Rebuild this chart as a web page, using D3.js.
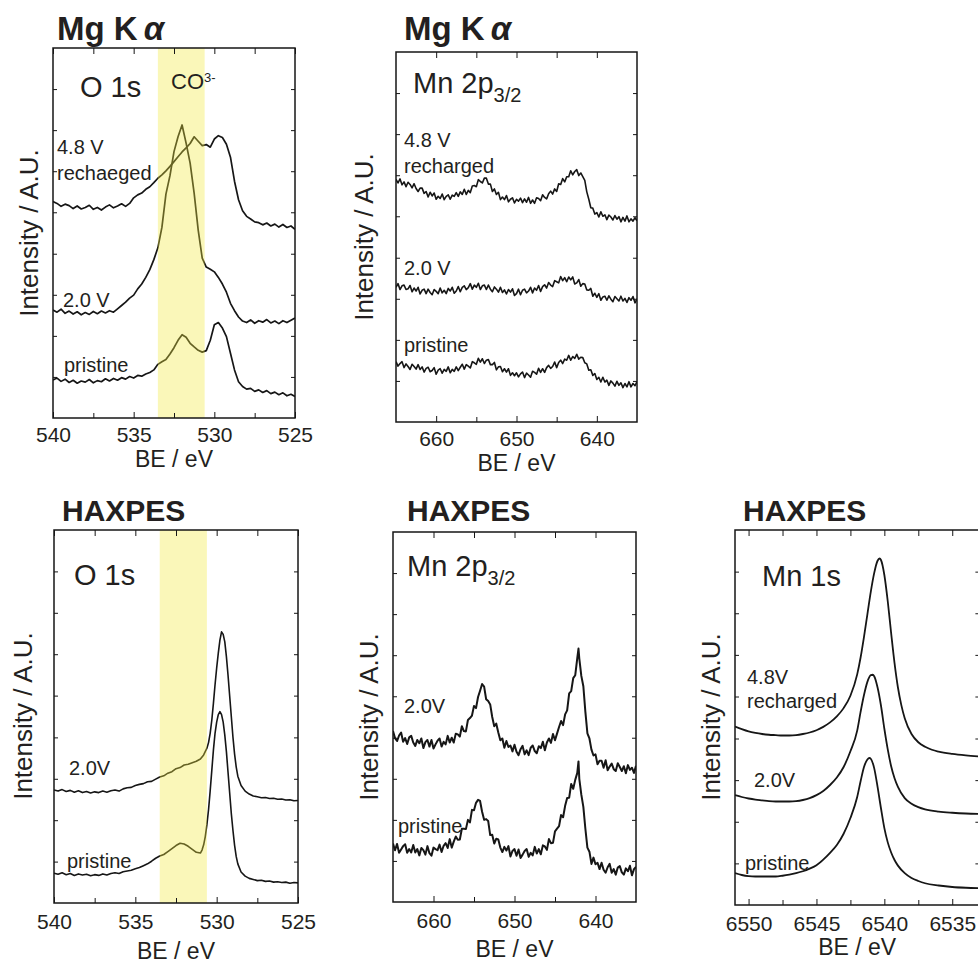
<!DOCTYPE html>
<html>
<head>
<meta charset="utf-8">
<script src="https://cdn.jsdelivr.net/npm/d3@7"></script>
<style>
  body { margin: 0; background: #fff; }
  svg text { font-family: "Liberation Sans", Arial, Helvetica, sans-serif; fill: #231f20; }
</style>
</head>
<body>
<svg id="fig" width="978" height="965"></svg>
<script>
// ===================== DATA (binding energy in eV, intensity in A.U. 0-100) =====================

// --- Mg Ka, O 1s ---
const o1sMgRecharged = [[540,58.5],[539.75,58.0],[539.5,57.2],[539.25,57.8],[539,57.4],[538.75,56.6],[538.5,57.3],[538.25,56.5],[538,56.9],[537.75,57.5],[537.5,56.4],[537.25,56.9],[537,56.2],[536.75,57.0],[536.5,57.6],[536.25,56.8],[536,57.3],[535.75,57.9],[535.5,57.2],[535.25,58.0],[535,59.5],[534.75,60.3],[534.5,60.8],[534.25,61.8],[534,62.5],[533.75,63.6],[533.5,64.8],[533.25,65.7],[533,66.8],[532.75,68.0],[532.5,69.3],[532.25,70.6],[532,71.9],[531.75,73.0],[531.5,74.2],[531.25,76.0],[531,74.8],[530.75,73.6],[530.5,73.9],[530.25,73.2],[530,75.4],[529.75,76.3],[529.5,75.8],[529.25,74.0],[529,70.5],[528.75,64.0],[528.5,59.0],[528.25,56.0],[528,54.5],[527.75,53.8],[527.5,53.0],[527.25,52.8],[527,52.2],[526.75,52.7],[526.5,51.9],[526.25,52.4],[526,51.6],[525.75,52.3],[525.5,51.5],[525.25,51.9],[525,51.0]];
const o1sMg20V = [[540,29.2],[539.75,28.6],[539.5,29.4],[539.25,28.3],[539,28.9],[538.75,28.1],[538.5,28.7],[538.25,27.9],[538,28.5],[537.75,28.0],[537.5,28.8],[537.25,28.2],[537,28.9],[536.75,28.4],[536.5,29.0],[536.25,28.6],[536,29.5],[535.75,30.4],[535.5,31.3],[535.25,32.4],[535,33.2],[534.75,34.9],[534.5,36.2],[534.25,38.0],[534,40.1],[533.75,42.8],[533.5,46.0],[533.25,51.5],[533,60.5],[532.75,65.5],[532.5,72.0],[532.25,76.0],[532,79.2],[531.75,74.3],[531.5,68.9],[531.25,60.7],[531,50.8],[530.75,43.2],[530.5,40.8],[530.25,40.2],[530,39.5],[529.75,38.0],[529.5,36.2],[529.25,34.0],[529,31.0],[528.75,29.0],[528.5,27.3],[528.25,26.2],[528,25.8],[527.75,26.5],[527.5,25.6],[527.25,26.3],[527,25.9],[526.75,26.6],[526.5,25.7],[526.25,26.2],[526,25.5],[525.75,26.3],[525.5,25.8],[525.25,26.4],[525,27.0]];
const o1sMgPristine = [[540,10.3],[539.75,10.8],[539.5,9.9],[539.25,10.5],[539,9.6],[538.75,10.2],[538.5,9.4],[538.25,10.0],[538,9.7],[537.75,10.4],[537.5,9.5],[537.25,10.1],[537,9.8],[536.75,10.6],[536.5,10.0],[536.25,10.7],[536,10.2],[535.75,10.9],[535.5,10.5],[535.25,11.2],[535,10.8],[534.75,11.5],[534.5,11.3],[534.25,11.9],[534,12.3],[533.75,13.0],[533.5,14.5],[533.25,15.2],[533,15.8],[532.75,17.3],[532.5,19.0],[532.25,21.0],[532,22.5],[531.75,21.8],[531.5,20.2],[531.25,19.2],[531,18.3],[530.75,17.8],[530.5,18.2],[530.25,21.0],[530,25.2],[529.75,25.8],[529.5,24.3],[529.25,22.0],[529,17.5],[528.75,13.0],[528.5,9.8],[528.25,8.5],[528,7.8],[527.75,8.0],[527.5,7.2],[527.25,7.6],[527,6.9],[526.75,7.4],[526.5,6.6],[526.25,7.0],[526,6.3],[525.75,6.8],[525.5,6.0],[525.25,6.4],[525,5.8]];

// --- Mg Ka, Mn 2p3/2 ---
const mn2pMgRecharged = [[665,65.6],[664.75,64.6],[664.5,65.7],[664.25,64.1],[664,64.9],[663.75,63.6],[663.5,64.8],[663.25,64.2],[663,63.3],[662.75,64.4],[662.5,63.1],[662.25,62.3],[662,63.2],[661.75,63.2],[661.5,61.8],[661.25,62.3],[661,60.8],[660.75,62.1],[660.5,61.1],[660.25,61.9],[660,60.2],[659.75,61.0],[659.5,60.4],[659.25,61.6],[659,60.1],[658.75,61.0],[658.5,61.4],[658.25,60.2],[658,61.3],[657.75,61.0],[657.5,62.0],[657.25,61.0],[657,62.2],[656.75,61.5],[656.5,62.9],[656.25,61.5],[656,62.6],[655.75,62.0],[655.5,63.8],[655.25,63.9],[655,63.6],[654.75,65.5],[654.5,65.0],[654.25,64.6],[654,65.9],[653.75,65.9],[653.5,64.3],[653.25,64.3],[653,62.3],[652.75,63.0],[652.5,61.5],[652.25,62.1],[652,60.1],[651.75,60.8],[651.5,60.1],[651.25,61.2],[651,59.5],[650.75,60.2],[650.5,60.6],[650.25,59.2],[650,60.2],[649.75,59.7],[649.5,60.5],[649.25,59.3],[649,60.3],[648.75,59.4],[648.5,60.7],[648.25,59.1],[648,60.0],[647.75,59.1],[647.5,60.6],[647.25,60.4],[647,59.8],[646.75,61.4],[646.5,60.7],[646.25,60.3],[646,61.7],[645.75,62.4],[645.5,61.6],[645.25,63.0],[645,62.3],[644.75,64.4],[644.5,64.2],[644.25,65.8],[644,64.9],[643.75,66.3],[643.5,66.3],[643.25,67.9],[643,66.8],[642.75,67.7],[642.5,68.2],[642.25,66.6],[642,67.3],[641.75,66.3],[641.5,65.3],[641.25,62.2],[641,60.2],[640.75,57.9],[640.5,57.8],[640.25,56.2],[640,56.6],[639.75,55.4],[639.5,56.8],[639.25,55.6],[639,56.0],[638.75,54.7],[638.5,55.9],[638.25,55.4],[638,54.6],[637.75,55.8],[637.5,54.8],[637.25,55.5],[637,54.1],[636.75,55.3],[636.5,54.3],[636.25,55.7],[636,54.1],[635.75,54.9],[635.5,54.3],[635.25,55.2],[635,54.4]];
const mn2pMg20V = [[665,36.4],[664.75,37.4],[664.5,35.8],[664.25,36.8],[664,37.0],[663.75,35.8],[663.5,36.0],[663.25,36.9],[663,35.2],[662.75,36.2],[662.5,35.4],[662.25,36.4],[662,34.6],[661.75,35.6],[661.5,35.9],[661.25,34.7],[661,35.9],[660.75,35.0],[660.5,34.4],[660.25,35.8],[660,35.3],[659.75,34.7],[659.5,36.2],[659.25,34.9],[659,35.6],[658.75,34.7],[658.5,36.1],[658.25,35.4],[658,36.4],[657.75,34.8],[657.5,35.4],[657.25,36.6],[657,35.2],[656.75,36.4],[656.5,36.8],[656.25,35.8],[656,36.3],[655.75,37.4],[655.5,35.9],[655.25,37.0],[655,36.4],[654.75,37.5],[654.5,35.8],[654.25,36.8],[654,37.0],[653.75,35.8],[653.5,37.0],[653.25,35.9],[653,35.2],[652.75,36.5],[652.5,35.9],[652.25,35.1],[652,36.4],[651.75,35.0],[651.5,35.7],[651.25,34.6],[651,35.8],[650.75,35.1],[650.5,36.0],[650.25,34.2],[650,34.7],[649.75,35.9],[649.5,34.4],[649.25,35.6],[649,35.9],[648.75,34.9],[648.5,35.4],[648.25,36.4],[648,34.9],[647.75,36.2],[647.5,35.6],[647.25,36.9],[647,35.3],[646.75,36.6],[646.5,37.1],[646.25,36.2],[646,37.7],[645.75,37.0],[645.5,36.6],[645.25,38.2],[645,37.9],[644.75,37.6],[644.5,39.3],[644.25,38.2],[644,39.0],[643.75,37.9],[643.5,39.2],[643.25,38.4],[643,39.2],[642.75,37.3],[642.5,37.6],[642.25,38.5],[642,36.7],[641.75,37.4],[641.5,37.3],[641.25,35.7],[641,35.6],[640.75,36.1],[640.5,34.0],[640.25,34.8],[640,33.7],[639.75,34.7],[639.5,32.9],[639.25,33.8],[639,34.0],[638.75,32.9],[638.5,34.1],[638.25,33.2],[638,32.5],[637.75,33.9],[637.5,33.3],[637.25,32.7],[637,34.0],[636.75,32.7],[636.5,33.4],[636.25,32.3],[636,33.6],[635.75,32.9],[635.5,33.9],[635.25,32.2],[635,33.3]];
const mn2pMgPristine = [[665,16.3],[664.75,15.1],[664.5,15.8],[664.25,16.3],[664,14.7],[663.75,15.7],[663.5,15.0],[663.25,14.2],[663,15.6],[662.75,15.0],[662.5,14.3],[662.25,15.5],[662,14.2],[661.75,14.9],[661.5,13.5],[661.25,14.5],[661,14.8],[660.75,13.6],[660.5,13.9],[660.25,14.7],[660,12.9],[659.75,14.0],[659.5,14.4],[659.25,13.2],[659,14.2],[658.75,13.7],[658.5,14.9],[658.25,13.3],[658,14.2],[657.75,13.7],[657.5,14.9],[657.25,13.9],[657,14.8],[656.75,15.6],[656.5,14.3],[656.25,15.5],[656,15.1],[655.75,14.6],[655.5,16.3],[655.25,16.0],[655,15.6],[654.75,17.2],[654.5,16.2],[654.25,17.1],[654,15.8],[653.75,16.7],[653.5,16.9],[653.25,15.5],[653,15.5],[652.75,16.1],[652.5,14.1],[652.25,14.9],[652,15.0],[651.75,13.6],[651.5,14.4],[651.25,13.5],[651,14.4],[650.75,12.6],[650.5,13.3],[650.25,12.5],[650,13.3],[649.75,12.2],[649.5,13.0],[649.25,13.5],[649,12.0],[648.75,13.2],[648.5,12.7],[648.25,12.1],[648,13.7],[647.75,13.4],[647.5,12.9],[647.25,14.5],[647,13.4],[646.75,14.4],[646.5,13.4],[646.25,14.7],[646,15.3],[645.75,14.5],[645.5,15.0],[645.25,16.2],[645,14.7],[644.75,16.1],[644.5,16.7],[644.25,15.8],[644,17.0],[643.75,16.7],[643.5,18.0],[643.25,16.7],[643,17.7],[642.75,17.2],[642.5,18.3],[642.25,17.0],[642,17.5],[641.75,17.4],[641.5,16.0],[641.25,15.7],[641,14.0],[640.75,14.1],[640.5,12.6],[640.25,13.1],[640,11.5],[639.75,12.1],[639.5,10.8],[639.25,12.1],[639,10.8],[638.75,11.3],[638.5,9.9],[638.25,11.1],[638,10.5],[637.75,9.7],[637.5,11.0],[637.25,9.9],[637,10.6],[636.75,9.3],[636.5,10.4],[636.25,9.5],[636,10.9],[635.75,9.5],[635.5,10.4],[635.25,9.8],[635,10.9]];

// --- HAXPES, O 1s ---
const o1sHx20V = [[540,30.3],[539.75,30.0],[539.5,30.4],[539.25,29.9],[539,30.2],[538.75,29.7],[538.5,30.1],[538.25,29.6],[538,29.9],[537.75,29.5],[537.5,29.8],[537.25,29.6],[537,30.0],[536.75,29.7],[536.5,30.1],[536.25,30.3],[536,30.0],[535.75,30.6],[535.5,30.9],[535.25,31.0],[535,31.5],[534.75,31.8],[534.5,32.0],[534.25,32.5],[534,32.6],[533.75,33.2],[533.5,33.8],[533.25,34.1],[533,34.8],[532.75,35.2],[532.5,36.0],[532.25,36.3],[532,37.0],[531.75,37.2],[531.5,37.6],[531.25,38.0],[531,38.6],[530.8,39.7],[530.6,41.5],[530.5,43.0],[530.4,45.5],[530.3,49.0],[530.2,53.5],[530.1,58.5],[530,63.0],[529.9,67.0],[529.8,70.5],[529.7,72.7],[529.6,72.0],[529.5,70.0],[529.4,66.0],[529.3,61.0],[529.2,55.5],[529.1,50.0],[529,44.5],[528.9,40.0],[528.8,36.5],[528.7,34.0],[528.5,31.5],[528.25,30.0],[528,29.2],[527.75,28.7],[527.5,28.5],[527.25,28.2],[527,28.3],[526.75,28.0],[526.5,28.1],[526.25,27.8],[526,27.9],[525.75,27.6],[525.5,27.7],[525.25,27.4],[525,27.5]];
const o1sHxPristine = [[540,8.0],[539.75,7.7],[539.5,8.1],[539.25,7.6],[539,7.9],[538.75,7.4],[538.5,7.8],[538.25,7.5],[538,7.7],[537.75,7.3],[537.5,7.6],[537.25,7.4],[537,7.8],[536.75,7.5],[536.5,7.9],[536.25,8.1],[536,7.9],[535.75,8.4],[535.5,8.6],[535.25,8.8],[535,9.2],[534.75,9.5],[534.5,10.0],[534.25,10.5],[534,11.2],[533.75,12.0],[533.5,12.6],[533.25,13.0],[533,13.8],[532.75,14.6],[532.5,15.4],[532.25,16.0],[532,15.8],[531.75,15.2],[531.5,14.4],[531.25,13.6],[531,13.4],[530.9,14.2],[530.8,15.6],[530.7,17.8],[530.6,21.0],[530.5,25.0],[530.4,30.0],[530.3,35.5],[530.2,41.0],[530.1,45.5],[530,48.5],[529.9,50.5],[529.8,51.3],[529.7,50.5],[529.6,48.5],[529.5,45.0],[529.4,40.5],[529.3,35.0],[529.2,29.5],[529.1,24.0],[529,19.5],[528.9,15.5],[528.8,12.5],[528.7,10.5],[528.5,8.3],[528.25,7.2],[528,6.6],[527.75,6.3],[527.5,6.0],[527.25,6.1],[527,5.8],[526.75,5.9],[526.5,5.6],[526.25,5.7],[526,5.5],[525.75,5.6],[525.5,5.3],[525.25,5.5],[525,5.4]];

// --- HAXPES, Mn 2p3/2 ---
const mn2pHx20V = [[665,46.2],[664.75,44.3],[664.5,43.5],[664.25,45.0],[664,45.8],[663.75,43.3],[663.5,44.3],[663.25,42.7],[663,44.5],[662.75,44.9],[662.5,43.1],[662.25,42.2],[662,43.8],[661.75,42.9],[661.5,44.2],[661.25,41.6],[661,43.2],[660.75,43.8],[660.5,42.0],[660.25,43.8],[660,41.5],[659.75,42.6],[659.5,43.6],[659.25,44.2],[659,42.0],[658.75,43.3],[658.5,42.6],[658.25,44.9],[658,43.1],[657.75,44.4],[657.5,43.1],[657.25,45.5],[657,45.3],[656.75,44.7],[656.5,47.5],[656.25,46.2],[656,46.1],[655.75,49.2],[655.5,49.7],[655.25,50.4],[655,53.0],[654.75,52.4],[654.5,55.4],[654.25,57.1],[654,58.9],[653.75,58.2],[653.5,54.8],[653.25,54.3],[653,53.4],[652.75,50.0],[652.5,47.5],[652.25,48.2],[652,45.8],[651.75,43.7],[651.5,44.2],[651.25,41.7],[651,43.5],[650.75,41.9],[650.5,42.3],[650.25,40.7],[650,42.5],[649.75,40.6],[649.5,39.7],[649.25,41.3],[649,42.2],[648.75,39.9],[648.5,41.0],[648.25,39.7],[648,41.7],[647.75,42.3],[647.5,40.8],[647.25,40.2],[647,42.1],[646.75,41.6],[646.5,43.3],[646.25,41.0],[646,43.1],[645.75,44.2],[645.5,43.0],[645.25,45.4],[645,43.7],[644.75,45.5],[644.5,47.3],[644.25,48.9],[644,47.8],[643.75,50.7],[643.5,51.8],[643.25,56.4],[643,57.0],[642.75,60.5],[642.5,61.3],[642.25,65.9],[642.1,68.5],[642,65.8],[641.75,61.1],[641.5,58.3],[641.25,51.4],[641,45.6],[640.75,44.2],[640.5,41.2],[640.25,39.6],[640,39.9],[639.75,37.2],[639.5,38.2],[639.25,38.2],[639,36.3],[638.75,38.3],[638.5,35.6],[638.25,36.6],[638,37.4],[637.75,35.9],[637.5,35.4],[637.25,37.5],[637,36.5],[636.75,35.4],[636.5,36.7],[636.25,34.8],[636,37.0],[635.75,35.7],[635.5,36.3],[635.25,34.9],[635,36.8]];
const mn2pHxPristine = [[665,15.8],[664.75,14.0],[664.5,15.7],[664.25,13.3],[664,14.2],[663.75,15.1],[663.5,15.6],[663.25,13.3],[663,14.3],[662.75,13.4],[662.5,15.4],[662.25,13.4],[662,14.3],[661.75,12.6],[661.5,14.6],[661.25,14.0],[661,12.8],[660.75,15.1],[660.5,13.2],[660.25,12.5],[660,14.7],[659.75,14.3],[659.5,14.0],[659.25,15.5],[659,13.5],[658.75,15.2],[658.5,15.9],[658.25,14.6],[658,17.0],[657.75,14.7],[657.5,16.3],[657.25,17.7],[657,16.8],[656.75,16.9],[656.5,19.8],[656.25,19.8],[656,19.7],[655.75,22.2],[655.5,21.5],[655.25,24.9],[655,24.8],[654.75,26.8],[654.5,27.6],[654.25,27.3],[654,24.4],[653.75,22.2],[653.5,22.4],[653.25,21.9],[653,18.1],[652.75,18.2],[652.5,15.8],[652.25,17.1],[652,16.9],[651.75,14.7],[651.5,13.5],[651.25,14.9],[651,13.9],[650.75,15.1],[650.5,12.3],[650.25,13.8],[650,14.3],[649.75,12.5],[649.5,14.2],[649.25,11.9],[649,12.8],[648.75,13.8],[648.5,14.3],[648.25,12.2],[648,13.3],[647.75,12.6],[647.5,14.9],[647.25,13.1],[647,14.3],[646.75,12.9],[646.5,15.3],[646.25,15.0],[646,14.1],[645.75,17.0],[645.5,15.9],[645.25,16.0],[645,19.1],[644.75,19.8],[644.5,20.5],[644.25,23.5],[644,22.9],[643.75,26.0],[643.5,28.1],[643.25,28.2],[643,31.9],[642.75,30.6],[642.5,33.0],[642.25,34.9],[642.1,38.0],[642,33.3],[641.75,29.0],[641.5,25.7],[641.25,19.8],[641,14.7],[640.75,13.6],[640.5,10.3],[640.25,12.0],[640,10.2],[639.75,10.6],[639.5,8.9],[639.25,10.6],[639,8.7],[638.75,7.9],[638.5,9.4],[638.25,10.3],[638,7.9],[637.75,8.9],[637.5,7.4],[637.25,9.3],[637,9.7],[636.75,8.0],[636.5,7.4],[636.25,9.1],[636,8.3],[635.75,9.8],[635.5,7.2],[635.25,8.9],[635,9.5]];

// --- HAXPES, Mn 1s ---
const mn1sRecharged = [[6551,47.6],[6550.5,46.9],[6550,46.3],[6549.5,45.9],[6549,45.6],[6548.5,45.4],[6548,45.3],[6547.5,45.2],[6547,45.2],[6546.5,45.3],[6546,45.6],[6545.5,46.0],[6545,46.6],[6544.5,47.5],[6544,48.7],[6543.5,50.3],[6543,52.5],[6542.5,55.8],[6542,61.5],[6541.75,66.0],[6541.5,71.5],[6541.25,77.5],[6541,83.5],[6540.75,88.5],[6540.5,91.8],[6540.35,92.4],[6540.25,92.0],[6540,88.0],[6539.75,81.0],[6539.5,72.5],[6539.25,64.5],[6539,58.0],[6538.75,53.3],[6538.5,49.8],[6538,45.6],[6537.5,43.4],[6537,42.2],[6536.5,41.4],[6536,40.9],[6535,40.3],[6534,39.9],[6533,39.6]];
const mn1s20V = [[6551,29.3],[6550.5,28.8],[6550,28.4],[6549.5,28.1],[6549,27.9],[6548.5,27.7],[6548,27.6],[6547.5,27.6],[6547,27.6],[6546.5,27.7],[6546,28.0],[6545.5,28.5],[6545,29.3],[6544.5,30.4],[6544,32.0],[6543.5,34.0],[6543,36.8],[6542.5,41.0],[6542,46.5],[6541.75,51.5],[6541.5,56.0],[6541.25,59.5],[6541,61.3],[6540.85,61.4],[6540.75,61.0],[6540.5,58.0],[6540.25,53.2],[6540,47.0],[6539.75,41.5],[6539.5,37.0],[6539.25,33.8],[6539,31.5],[6538.5,28.5],[6538,27.0],[6537.5,26.1],[6537,25.5],[6536,24.9],[6535,24.6],[6534,24.4],[6533,24.3]];
const mn1sPristine = [[6551,8.5],[6550.5,8.0],[6550,7.7],[6549.5,7.6],[6549,7.6],[6548.5,7.6],[6548,7.6],[6547.5,7.8],[6547,8.1],[6546.5,8.5],[6546,9.0],[6545.5,9.7],[6545,10.6],[6544.5,12.1],[6544,13.9],[6543.5,16.0],[6543,19.0],[6542.5,23.2],[6542,28.8],[6541.75,33.0],[6541.5,36.8],[6541.25,38.8],[6541.1,39.2],[6541,39.0],[6540.75,36.5],[6540.5,31.5],[6540.25,25.8],[6540,20.5],[6539.75,16.7],[6539.5,14.0],[6539.25,12.0],[6539,10.5],[6538.5,8.5],[6538,7.2],[6537.5,6.4],[6537,5.8],[6536,5.2],[6535,4.8],[6534,4.6],[6533,4.5]];

// --- axes, ticks, shaded CO3 region ---
const o1sDomain = [540, 525];
const o1sTicks = [540, 535, 530, 525];
const o1sMinor = [537.5, 532.5, 527.5];
const mn2pDomain = [665, 635];
const mn2pTicks = [660, 650, 640];
const mn2pMinor = [655, 645];
const mn1sDomain = [6551, 6533];
const mn1sTicks = [6550, 6545, 6540, 6535];
const mn1sMinor = [6547.5, 6542.5, 6537.5];
const yDomain = [0, 100];
const yTicks = [11.1, 22.2, 33.3, 44.4, 55.6, 66.7, 77.8, 88.9];
const co3Band = [533.5, 530.6];

// =============================================== DRAWING ===============================================
const svg = d3.select("#fig");
const INK = "#161616";

const panels = [
  { id: "p1", box: [53, 48, 295, 418], dom: o1sDomain, ticks: o1sTicks, minor: o1sMinor,
    curves: [o1sMgRecharged, o1sMg20V, o1sMgPristine], sw: 1.7, band: co3Band,
    ylab: [38, 233], pad: 9, xlabDy: 49,
    labels: [
      { x: 57, y: 40, size: 33, bold: true, parts: [{ t: "Mg K" }, { t: "α", italic: true, dx: 6 }] },
      { x: 80, y: 97, size: 29, parts: [{ t: "O 1s" }] },
      { x: 171, y: 89, size: 22, parts: [{ t: "CO" }, { t: "3-", size: 13, dy: -7 }] },
      { x: 57, y: 154, size: 20, parts: [{ t: "4.8 V" }] },
      { x: 57, y: 180, size: 20, parts: [{ t: "rechaeged" }] },
      { x: 63, y: 307, size: 20, parts: [{ t: "2.0 V" }] },
      { x: 64, y: 372, size: 20, parts: [{ t: "pristine" }] }
    ] },
  { id: "p2", box: [396, 52, 637, 422], dom: mn2pDomain, ticks: mn2pTicks, minor: mn2pMinor,
    curves: [mn2pMgRecharged, mn2pMg20V, mn2pMgPristine], sw: 1.6,
    ylab: [373, 237], pad: 9, xlabDy: 49,
    labels: [
      { x: 404, y: 40, size: 33, bold: true, parts: [{ t: "Mg K" }, { t: "α", italic: true, dx: 6 }] },
      { x: 413, y: 93, size: 29, parts: [{ t: "Mn 2p" }, { t: "3/2", size: 20, dy: 9 }] },
      { x: 404, y: 147, size: 20, parts: [{ t: "4.8 V" }] },
      { x: 404, y: 173, size: 20, parts: [{ t: "recharged" }] },
      { x: 404, y: 275, size: 20, parts: [{ t: "2.0 V" }] },
      { x: 404, y: 352, size: 20, parts: [{ t: "pristine" }] }
    ] },
  { id: "p3", box: [54, 530, 298, 903], dom: o1sDomain, ticks: o1sTicks, minor: o1sMinor,
    curves: [o1sHx20V, o1sHxPristine], sw: 1.6, band: co3Band,
    ylab: [32, 716], pad: 11, xlabDy: 56,
    labels: [
      { x: 62, y: 521, size: 30, bold: true, parts: [{ t: "HAXPES" }] },
      { x: 74, y: 585, size: 29, parts: [{ t: "O 1s" }] },
      { x: 69, y: 775, size: 20, parts: [{ t: "2.0V" }] },
      { x: 67, y: 868, size: 20, parts: [{ t: "pristine" }] }
    ] },
  { id: "p4", box: [393, 532, 636, 902], dom: mn2pDomain, ticks: mn2pTicks, minor: mn2pMinor,
    curves: [mn2pHx20V, mn2pHxPristine], sw: 2.0,
    ylab: [378, 717], pad: 11, xlabDy: 55,
    labels: [
      { x: 407, y: 521, size: 30, bold: true, parts: [{ t: "HAXPES" }] },
      { x: 407, y: 576, size: 29, parts: [{ t: "Mn 2p" }, { t: "3/2", size: 20, dy: 9 }] },
      { x: 404, y: 713, size: 20, parts: [{ t: "2.0V" }] },
      { x: 398, y: 833, size: 20, parts: [{ t: "pristine" }] }
    ] },
  { id: "p5", box: [735, 530, 979.4, 905], dom: mn1sDomain, ticks: mn1sTicks, minor: mn1sMinor,
    curves: [mn1sRecharged, mn1s20V, mn1sPristine], sw: 1.8, smooth: true,
    ylab: [720, 717], pad: 11, xlabDy: 50,
    labels: [
      { x: 743, y: 521, size: 30, bold: true, parts: [{ t: "HAXPES" }] },
      { x: 762, y: 586, size: 29, parts: [{ t: "Mn 1s" }] },
      { x: 747, y: 684, size: 20, parts: [{ t: "4.8V" }] },
      { x: 747, y: 708, size: 20, parts: [{ t: "recharged" }] },
      { x: 754, y: 787, size: 20, parts: [{ t: "2.0V" }] },
      { x: 745, y: 870, size: 20, parts: [{ t: "pristine" }] }
    ] }
];

function addText(g, L) {
  const t = g.append("text")
    .attr("x", L.x).attr("y", L.y)
    .attr("font-size", L.size)
    .attr("font-weight", L.bold ? "bold" : null);
  L.parts.forEach(s => {
    const ts = t.append("tspan").text(s.t);
    if (s.size) ts.attr("font-size", s.size);
    if (s.dy) ts.attr("dy", s.dy);
    if (s.dx) ts.attr("dx", s.dx);
    if (s.italic) ts.attr("font-style", "italic");
  });
}

function styleAxis(sel) {
  sel.select(".domain").remove();
  sel.selectAll(".tick line").attr("stroke", INK).attr("stroke-width", 1);
}

function drawPanel(p) {
  const [x0, y0, x1, y1] = p.box;
  const x = d3.scaleLinear().domain(p.dom).range([x0, x1]);
  const y = d3.scaleLinear().domain(yDomain).range([y1, y0]);
  const g = svg.append("g").attr("id", p.id);

  svg.append("clipPath").attr("id", "clip-" + p.id)
    .append("rect").attr("x", x0).attr("y", y0).attr("width", x1 - x0).attr("height", y1 - y0);

  // spectra
  const line = d3.line()
    .x(d => x(d[0]))
    .y(d => y(d[1]))
    .curve(p.smooth ? d3.curveMonotoneX : d3.curveLinear);

  g.append("g").attr("clip-path", "url(#clip-" + p.id + ")")
    .selectAll("path")
    .data(p.curves)
    .join("path")
    .attr("d", line)
    .attr("fill", "none")
    .attr("stroke", INK)
    .attr("stroke-width", p.sw)
    .attr("stroke-linejoin", "round");

  // CO3 highlight sits on top of the spectra (semi-transparent)
  if (p.band) {
    g.append("rect")
      .attr("x", x(p.band[0])).attr("y", y0)
      .attr("width", x(p.band[1]) - x(p.band[0]))
      .attr("height", y1 - y0)
      .attr("fill", "rgb(240,234,60)")
      .attr("fill-opacity", 0.36);
  }

  // frame
  g.append("rect")
    .attr("x", x0).attr("y", y0).attr("width", x1 - x0).attr("height", y1 - y0)
    .attr("fill", "none").attr("stroke", INK).attr("stroke-width", 1.5);

  // bottom axis with labels, ticks pointing inward
  g.append("g").attr("transform", "translate(0," + y1 + ")")
    .call(d3.axisBottom(x).tickValues(p.ticks).tickSize(-6).tickPadding(p.pad).tickFormat(d3.format("d")))
    .call(styleAxis)
    .call(s => s.selectAll("text").attr("font-size", 21).attr("font-family", null).attr("fill", "#231f20"));
  g.append("g").attr("transform", "translate(0," + y1 + ")")
    .call(d3.axisBottom(x).tickValues(p.minor).tickSize(-5).tickFormat(""))
    .call(styleAxis);
  // top axis
  g.append("g").attr("transform", "translate(0," + y0 + ")")
    .call(d3.axisTop(x).tickValues(p.ticks.concat(p.minor)).tickSize(-6).tickFormat(""))
    .call(styleAxis);
  // left / right minor ticks
  g.append("g").attr("transform", "translate(" + x0 + ",0)")
    .call(d3.axisLeft(y).tickValues(yTicks).tickSize(-4).tickFormat(""))
    .call(styleAxis);
  g.append("g").attr("transform", "translate(" + x1 + ",0)")
    .call(d3.axisRight(y).tickValues(yTicks).tickSize(-4).tickFormat(""))
    .call(styleAxis);

  // axis titles
  g.append("text")
    .attr("x", (x0 + x1) / 2)
    .attr("y", y1 + p.xlabDy)
    .attr("text-anchor", "middle")
    .attr("font-size", 23)
    .text("BE / eV");
  g.append("text")
    .attr("transform", "translate(" + p.ylab[0] + "," + p.ylab[1] + ") rotate(-90)")
    .attr("text-anchor", "middle")
    .attr("font-size", 26)
    .text("Intensity / A.U.");

  p.labels.forEach(L => addText(g, L));
}

panels.forEach(drawPanel);
</script>
</body>
</html>
